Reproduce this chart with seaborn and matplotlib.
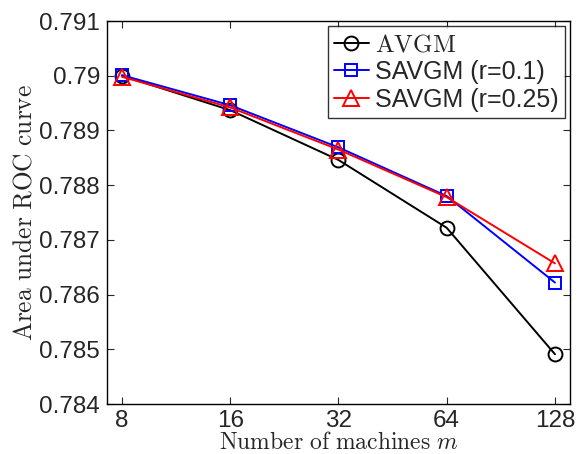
import matplotlib
matplotlib.use("Agg")
import matplotlib.pyplot as plt
import numpy as np
import pandas as pd
import seaborn as sns

machines = [8, 16, 32, 64, 128]
avgm = [0.79000, 0.78937, 0.78846, 0.78722, 0.78491]
savgm_01 = [0.79001, 0.78946, 0.78869, 0.78780, 0.78622]
savgm_025 = [0.78998, 0.78942, 0.78865, 0.78778, 0.78657]
labels = [r"$\mathrm{AVGM}$", "SAVGM (r=0.1)", "SAVGM (r=0.25)"]
colors = ["black", "blue", "red"]
markers = ["o", "s", "^"]
marker_sizes = [10, 8, 11]
yticks = [0.784, 0.785, 0.786, 0.787, 0.788, 0.789, 0.79, 0.791]
ytick_labels = ["0.784", "0.785", "0.786", "0.787", "0.788", "0.789", "0.79", "0.791"]

df = pd.DataFrame({
    "m": machines * 3,
    "auc": avgm + savgm_01 + savgm_025,
    "method": [labels[0]] * 5 + [labels[1]] * 5 + [labels[2]] * 5,
})

sns.set_style("ticks")
plt.rcParams["font.family"] = ["Liberation Sans", "DejaVu Sans"]
plt.rcParams["mathtext.fontset"] = "cm"
plt.rcParams["xtick.direction"] = "in"
plt.rcParams["ytick.direction"] = "in"

fig = plt.figure(figsize=(5.77, 4.54), dpi=100)
ax = fig.add_axes([107 / 577, 50 / 454, 463 / 577, 383 / 454])

sns.lineplot(data=df, x="m", y="auc", hue="method", style="method",
             palette=colors, markers=markers, dashes=False, ax=ax,
             linewidth=1.4, legend=False)
for line, c, ms in zip(ax.lines, colors, marker_sizes):
    line.set_markerfacecolor("none")
    line.set_markeredgecolor(c)
    line.set_markeredgewidth(1.4)
    line.set_markersize(ms)

ax.set_xscale("log", base=2)
ax.set_xticks(machines)
ax.set_xticklabels([str(m) for m in machines])
ax.minorticks_off()
ax.set_xlim(8 / 2 ** 0.139, 128 * 2 ** 0.139)
ax.set_ylim(0.784, 0.791)
ax.set_yticks(yticks)
ax.set_yticklabels(ytick_labels)
ax.tick_params(labelsize=17.5, length=5, width=0.8, top=True, right=True, pad=5)
ax.tick_params(axis="x", pad=4)
for s in ax.spines.values():
    s.set_visible(True)
    s.set_linewidth(1.0)
    s.set_color("black")

ax.set_xlabel(r"$\mathrm{Number\ of\ machines}\ m$", fontsize=17, labelpad=0)
ax.set_ylabel(r"$\mathrm{Area\ under\ ROC\ curve}$", fontsize=18.3, labelpad=2)

handles = ax.lines[:3]
leg = ax.legend(handles, labels, loc="upper right", fontsize=18, frameon=True,
                fancybox=False, edgecolor="black", borderaxespad=0.2,
                handlelength=1.4, handletextpad=0.25, labelspacing=0.15,
                borderpad=0.25)
leg.get_frame().set_linewidth(1.0)

fig.savefig("out.png", dpi=100)
